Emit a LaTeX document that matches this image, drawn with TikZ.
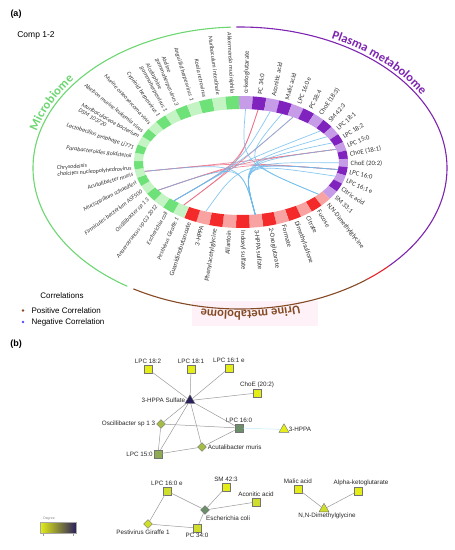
\documentclass[tikz,border=0pt]{standalone}
\usepackage{fontspec}
\setmainfont{Carlito}
\newfontfamily\arialfont{Liberation Sans}
\usetikzlibrary{shapes.geometric,decorations.text}

\definecolor{greendark}{RGB}{110,226,120}
\definecolor{greenlite}{RGB}{196,243,196}
\definecolor{purpledark}{RGB}{128,34,190}
\definecolor{purplelite}{RGB}{198,156,232}
\definecolor{reddark}{RGB}{244,42,42}
\definecolor{redlite}{RGB}{248,162,162}
\definecolor{microgreen}{RGB}{108,214,112}
\definecolor{plasmapurple}{RGB}{125,36,176}
\definecolor{urinebrown}{RGB}{132,74,36}
\definecolor{arcred}{RGB}{230,32,42}
\definecolor{urinepink}{RGB}{254,242,248}
\definecolor{posred}{RGB}{236,104,128}
\definecolor{negblue}{RGB}{108,186,236}
\definecolor{degyel}{RGB}{228,238,22}
\definecolor{deglime}{RGB}{206,222,42}
\definecolor{degolive}{RGB}{164,188,72}
\definecolor{degsage}{RGB}{142,170,82}
\definecolor{deggrey}{RGB}{108,142,104}
\definecolor{degteal}{RGB}{40,150,145}
\definecolor{degnavy}{RGB}{42,32,92}

\newcommand\segw{7.3469}
\newcommand\titlefont{\bfseries\fontsize{12.5}{14}\selectfont}

\tikzset{
  ringlab/.style={font=\fontsize{6.7}{7}\selectfont, text=black!80, inner sep=0.6pt},
  microlab/.style={ringlab, font=\fontsize{6}{6.3}\selectfont\itshape, align=left},
  chord/.style={line width=0.7pt, opacity=0.8},
  outerarc/.style={line width=1.1pt},
  netedge/.style={draw=black!40, line width=0.5pt},
  sqnode/.style={rectangle, draw=black!55, line width=0.4pt, minimum size=8pt, inner sep=0pt},
  dinode/.style={diamond, draw=black!55, line width=0.4pt, minimum size=9pt, inner sep=0pt},
  trinode/.style={regular polygon, regular polygon sides=3, draw=black!55, line width=0.4pt, minimum size=11.5pt, inner sep=0pt},
  netlab/.style={font=\arialfont\fontsize{6.3}{7}\selectfont, text=black!85, inner sep=1pt},
  every label/.style={netlab},
}

\begin{document}
\begin{tikzpicture}[x=1pt,y=1pt]
  \useasboundingbox (0,0) rectangle (455,-550);

  % faint highlight behind the urine title
  \fill[urinepink] (192,-301) rectangle (318,-326);

  \node[font=\arialfont\bfseries\fontsize{9}{10}\selectfont] (panela) at (16,-14) {(a)};
  \node[font=\arialfont\fontsize{8.5}{10}\selectfont] (comp) at (36,-35) {Comp 1-2};

  % outer block arcs and their titles
  \begin{scope}[shift={(240,-168)}]
    \draw[outerarc, microgreen] (92.5:207pt and 141pt) arc[start angle=92.5, end angle=237, x radius=207pt, y radius=141pt];
    \draw[outerarc, urinebrown] (239:207pt and 141pt) arc[start angle=239, end angle=308, x radius=207pt, y radius=141pt];
    \draw[outerarc, arcred] (308:207pt and 141pt) arc[start angle=308, end angle=316, x radius=207pt, y radius=141pt];
    \draw[outerarc, plasmapurple] (316:207pt and 141pt) arc[start angle=316, end angle=451, x radius=207pt, y radius=141pt];

    \path[decorate, decoration={text along path, text align=center, raise=3pt,
      text={|\titlefont\color{microgreen}|Microbiome}}]
      (186:207pt and 141pt) arc[start angle=186, end angle=126, x radius=207pt, y radius=141pt];
    \path[decorate, decoration={text along path, text align=center, raise=3pt,
      text={|\titlefont\color{plasmapurple}|Plasma metabolome}}]
      (77:207pt and 141pt) arc[start angle=77, end angle=13, x radius=207pt, y radius=141pt];
    \path[decorate, decoration={text along path, text align=center, raise=2pt,
      text={|\titlefont\color{urinebrown}|Urine metabolome}}]
      (299:207pt and 141pt) arc[start angle=299, end angle=247, x radius=207pt, y radius=141pt];
  \end{scope}

  % ring of segments
  \begin{scope}[shift={(241,-162)}]
    \coordinate (cen) at (0,0);
    \foreach \k in {0,...,48} {
      \pgfmathsetmacro\aa{91-\k*\segw}
      \pgfmathsetmacro\ab{91-(\k+1)*\segw}
      \ifnum\k<17
        \ifodd\k \def\segcol{purpledark}\else\def\segcol{purplelite}\fi
      \else\ifnum\k<29
        \ifodd\k \def\segcol{redlite}\else\def\segcol{reddark}\fi
      \else
        \ifodd\k \def\segcol{greenlite}\else\def\segcol{greendark}\fi
      \fi\fi
      \fill[\segcol] (\aa:107pt and 66pt) arc[start angle=\aa, end angle=\ab, x radius=107pt, y radius=66pt]
        -- (\ab:98pt and 53pt) arc[start angle=\ab, end angle=\aa, x radius=98pt, y radius=53pt] -- cycle;
      \coordinate (s\k) at ({91-(\k+0.5)*\segw}:98pt and 53pt);
    }

    % metabolite labels
    \foreach \k/\lab in {0/α-ketoglutarate, 1/PC 34:0, 2/Aconitic acid, 3/Malic acid, 4/LPC 16:0 e,
        5/PC 38:4, 6/ChoE (18:3), 7/SM 42:3, 8/LPC 18:1, 9/LPC 18:2, 10/LPC 15:0, 11/ChoE (18:1),
        12/ChoE (20:2), 13/LPC 16:0, 14/LPC 16:1 e, 15/Citric acid, 16/SM 33:1,
        17/{N,N-Dimethylglycine}, 18/Fucose, 19/Citrate, 20/Dimethylsulfone, 21/Formate,
        22/2-Oxoglutarate, 23/3-HPPA sulfate, 24/Indoxyl sulfate, 25/Allantoin,
        26/Phenylacetylglycine, 27/3-HPPA, 28/Guanidinobutanoate} {
      \pgfmathsetmacro\ang{91-(\k+0.5)*\segw}
      \pgfmathsetmacro\labrot{atan2(107*sin(\ang),66*cos(\ang))}
      \pgfmathsetmacro\labcos{cos(\ang)}
      \ifdim\labcos pt<0pt
        \pgfmathsetmacro\labrot{\labrot+180}
        \node[ringlab, anchor=east, rotate=\labrot] (l\k) at (\ang:109pt and 68pt) {\lab};
      \else
        \node[ringlab, anchor=west, rotate=\labrot] (l\k) at (\ang:109pt and 68pt) {\lab};
      \fi
    }

    % microbiome labels
    \foreach \k/\lab in {29/Pestivirus Giraffe 1, 30/Escherichia coli, 31/Anaerotruncus sp G3 2012,
        32/Oscillibacter sp 1 3, 33/Firmicutes bacterium ASF500, 34/Mucispirillum schaedleri,
        35/Acutalibacter muris, 36/{Chrysodeixis\\chalcites nucleopolyhedrovirus},
        37/Parabacteroides goldsteinii, 38/Lactobacillus prophage Lj771,
        39/{Muribaculaceae bacterium\\DSM 103720}, 40/Abelson murine leukemia virus,
        41/Murine osteosarcoma virus, 42/Cyprinid herpesvirus 1,
        43/{Alcelaphine\\gammaherpesvirus 1}, 44/{Ateline\\gammaherpesvirus 3},
        45/Anguillid herpesvirus 1, 46/Koala retrovirus, 47/Muribaculum intestinale,
        48/Akkermansia muciniphila} {
      \pgfmathsetmacro\ang{91-(\k+0.5)*\segw}
      \pgfmathsetmacro\labrot{atan2(107*sin(\ang),66*cos(\ang))+180}
      \node[microlab, anchor=east, rotate=\labrot] (l\k) at (\ang:109pt and 68pt) {\lab};
    }

    % chords
    \foreach \ka/\kb/\kc in {35/13/posred, 35/10/posred, 32/13/posred, 32/10/posred,
        30/1/posred, 29/1/posred, 29/4/posred,
        23/9/negblue, 23/8/negblue, 23/14/negblue, 23/12/negblue, 23/13/negblue,
        23/10/negblue, 23/32/negblue, 23/35/negblue, 27/13/negblue, 30/4/negblue,
        30/7/negblue, 30/2/negblue, 17/3/negblue, 17/0/negblue}
      \draw[chord, draw=\kc] (s\ka) .. controls (cen) .. (s\kb);
  \end{scope}

  % legend of panel (a)
  \node[font=\arialfont\fontsize{8}{9}\selectfont] (corr) at (62,-296) {Correlations};
  \fill[urinebrown] (23,-310.5) circle (1.3pt);
  \fill[blue!70] (23,-322) circle (1.3pt);
  \node[font=\arialfont\fontsize{8}{9}\selectfont, anchor=west] (poscorr) at (28,-310.5) {Positive Correlation};
  \node[font=\arialfont\fontsize{8}{9}\selectfont, anchor=west] (negcorr) at (28,-322) {Negative Correlation};

  \node[font=\arialfont\bfseries\fontsize{9}{10}\selectfont] (panelb) at (16,-344) {(b)};

  % network of panel (b)
  \node[sqnode, fill=degyel, label={above:{LPC 18:2}}] (lpcA) at (148,-369) {};
  \node[sqnode, fill=degyel, label={above:{LPC 18:1}}] (lpcB) at (191,-369) {};
  \node[sqnode, fill=degyel, label={above:{LPC 16:1 e}}] (lpcC) at (229,-368) {};
  \node[sqnode, fill=degyel, label={above:{ChoE (20:2)}}] (choe) at (257,-393) {};
  \node[trinode, fill=degnavy, label={left:{3-HPPA Sulfate}}] (hppas) at (190,-400.5) {};
  \node[dinode, fill=degolive, label={left:{Oscillibacter sp 1 3}}] (osci) at (161,-424) {};
  \node[sqnode, fill=deggrey, label={above:{LPC 16:0}}] (lpcD) at (239,-428) {};
  \node[trinode, fill=degyel, label={right:{3-HPPA}}] (hppa) at (284,-429.5) {};
  \node[dinode, fill=degolive, label={right:{Acutalibacter muris}}] (acut) at (202,-447) {};
  \node[sqnode, fill=degsage, label={left:{LPC 15:0}}] (lpcE) at (158,-454) {};

  \node[sqnode, fill=deglime, label={above:{LPC 16:0 e}}] (lpcF) at (167,-491) {};
  \node[sqnode, fill=degyel, label={above:{SM 42:3}}] (sm) at (226,-487) {};
  \node[sqnode, fill=deglime, label={above:{Aconitic acid}}] (acon) at (256,-502) {};
  \node[dinode, fill=deggrey, label={[anchor=north west]south:{Escherichia coli}}] (ecoli) at (205,-510) {};
  \node[dinode, fill=deglime, label={[xshift=-5pt]below:{Pestivirus Giraffe 1}}] (pest) at (148,-524) {};
  \node[sqnode, fill=deglime, label={below:{PC 34:0}}] (pc) at (197,-528) {};

  \node[sqnode, fill=degyel, label={above:{Malic acid}}] (malic) at (298,-489) {};
  \node[sqnode, fill=degyel, label={[xshift=3pt]above:{Alpha-ketoglutarate}}] (akg) at (358,-491) {};
  \node[trinode, fill=deglime, label={[xshift=3pt]below:{N,N-Dimethylglycine}}] (nndmg) at (324,-509) {};

  \foreach \u/\v in {hppas/lpcA, hppas/lpcB, hppas/lpcC, hppas/choe, hppas/lpcD, hppas/osci,
      hppas/lpcE, hppas/acut, osci/lpcD, osci/lpcE, lpcE/acut, acut/lpcD,
      lpcF/ecoli, lpcF/pest, sm/ecoli, acon/ecoli, ecoli/pc, pest/pc,
      malic/nndmg, akg/nndmg}
    \draw[netedge] (\u) -- (\v);
  \draw[netedge, draw=cyan!25] (lpcD) -- (hppa);

  % degree colour bar
  \shade[left color=degyel, middle color=degteal, right color=degnavy] (40,-522) rectangle (76,-533);
  \draw[black!35, line width=0.3pt] (40,-522) rectangle (76,-533);
  \node[font=\arialfont\fontsize{3.5}{4}\selectfont, text=black!50] (degree) at (49,-519) {Degree};
  \draw[black!40, line width=0.3pt] (43,-534) -- (43,-535.5) (73,-534) -- (73,-535.5);
\end{tikzpicture}
\end{document}
